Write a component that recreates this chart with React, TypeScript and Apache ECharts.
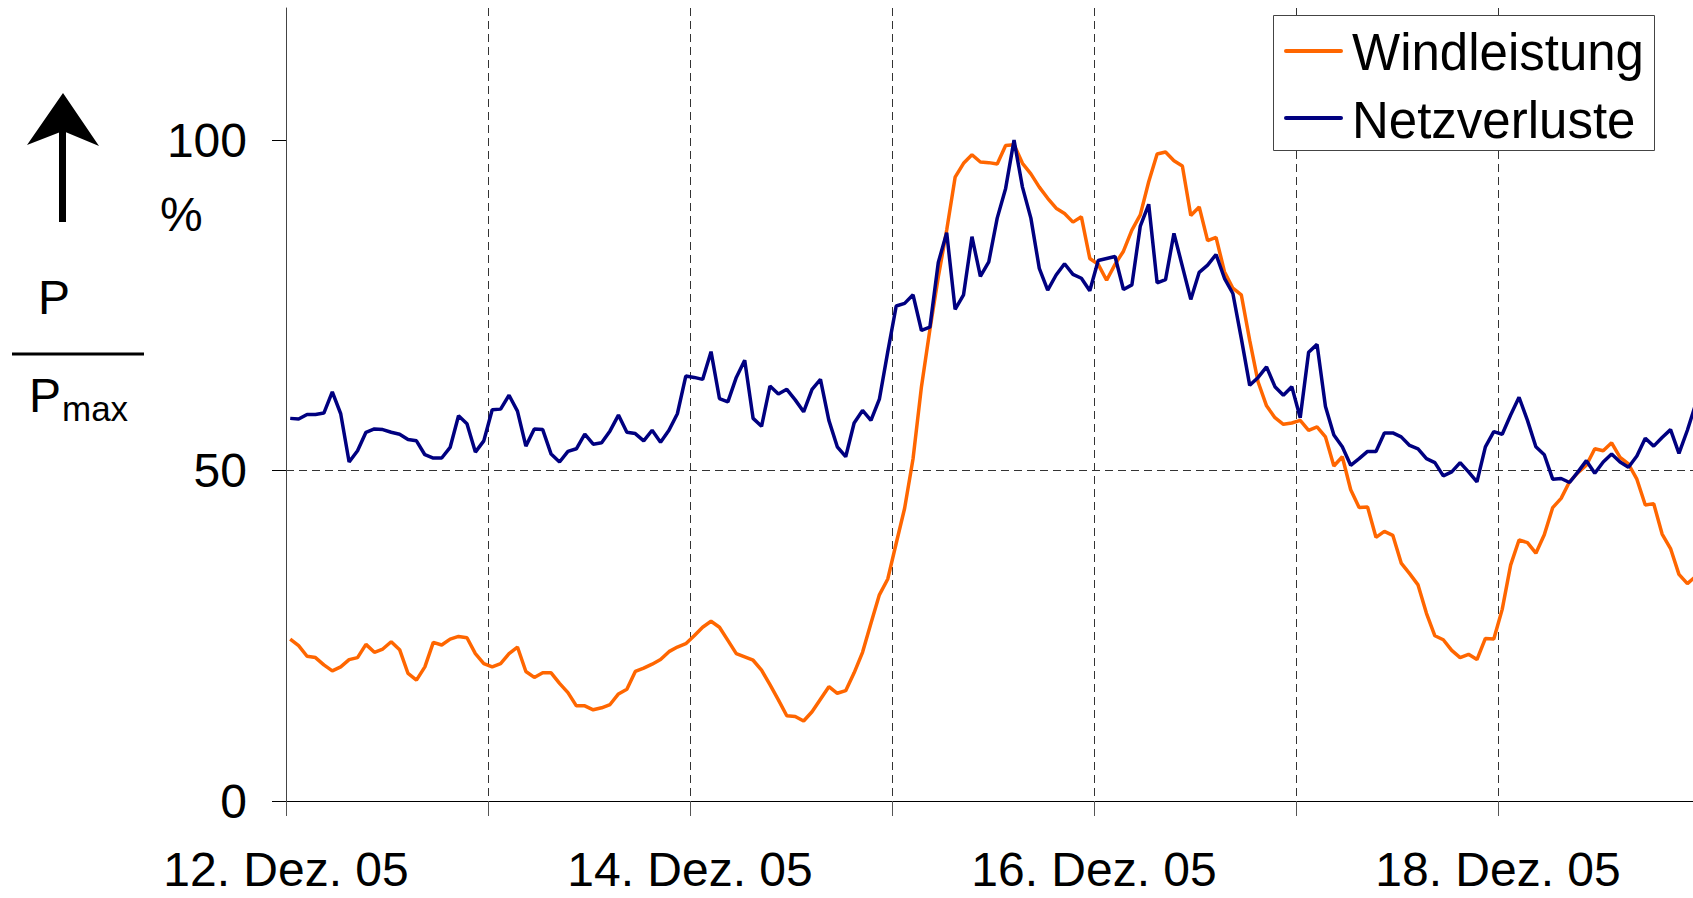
import React, { useEffect, useRef } from 'react';
import * as echarts from 'echarts';

// Hourly values from 12. Dez. 05 00:00, in percent of Pmax
const startDay = 12;
const hoursPerDay = 24;
const totalHours = 168;

const windleistung = [
  24.5, 23.5, 21.9, 21.7, 20.6, 19.7, 20.3, 21.4, 21.7, 23.7, 22.5, 23.0, 24.1, 22.9, 19.3, 18.3, 20.3, 24.0, 23.6, 24.5, 24.9, 24.7, 22.3, 20.8,
  20.3, 20.8, 22.3, 23.3, 19.6, 18.7, 19.4, 19.4, 17.8, 16.4, 14.4, 14.4, 13.8, 14.1, 14.6, 16.2, 16.9, 19.6, 20.1, 20.7, 21.4, 22.6, 23.3, 23.8,
  25.0, 26.3, 27.2, 26.3, 24.3, 22.3, 21.8, 21.3, 19.8, 17.6, 15.3, 12.9, 12.8, 12.1, 13.5, 15.4, 17.3, 16.3, 16.7, 19.4, 22.5, 26.9, 31.2, 33.6,
  39.0, 44.3, 51.8, 62.7, 71.3, 79.3, 86.4, 94.4, 96.5, 97.8, 96.7, 96.6, 96.4, 99.2, 99.3, 96.5, 94.9, 92.9, 91.2, 89.7, 88.9, 87.6, 88.4, 82.1,
  81.2, 78.8, 81.2, 83.2, 86.4, 88.7, 93.7, 97.9, 98.2, 96.9, 96.1, 88.6, 89.9, 84.8, 85.3, 80.1, 77.6, 76.6, 69.7, 63.4, 59.8, 58.0, 57.0, 57.2,
  57.6, 56.1, 56.6, 55.1, 50.7, 52.1, 47.1, 44.4, 44.5, 39.9, 40.8, 40.2, 36.0, 34.4, 32.7, 28.4, 25.0, 24.4, 22.8, 21.7, 22.2, 21.4, 24.6, 24.5,
  29.0, 35.7, 39.5, 39.1, 37.5, 40.3, 44.4, 45.8, 48.3, 49.7, 50.8, 53.3, 53.0, 54.2, 52.0, 51.0, 48.7, 44.8, 45.0, 40.4, 38.2, 34.3, 32.9, 34.0,
];

const netzverluste = [
  57.9, 57.8, 58.5, 58.5, 58.7, 61.9, 58.6, 51.3, 53.0, 55.8, 56.3, 56.2, 55.8, 55.5, 54.7, 54.5, 52.4, 51.9, 51.9, 53.5, 58.3, 57.1, 52.8, 54.5,
  59.2, 59.3, 61.4, 59.0, 53.7, 56.3, 56.2, 52.5, 51.3, 52.9, 53.3, 55.5, 54.0, 54.2, 56.0, 58.4, 55.8, 55.6, 54.5, 56.1, 54.3, 56.1, 58.6, 64.3,
  64.1, 63.8, 68.0, 60.9, 60.4, 64.1, 66.7, 57.9, 56.7, 62.8, 61.6, 62.3, 60.7, 58.9, 62.3, 63.8, 57.6, 53.6, 52.1, 57.2, 59.1, 57.6, 60.8, 68.0,
  74.9, 75.3, 76.6, 71.2, 71.7, 81.5, 86.0, 74.4, 76.6, 85.4, 79.4, 81.6, 88.2, 92.7, 100.0, 92.9, 88.2, 80.6, 77.3, 79.6, 81.3, 79.7, 79.1, 77.2,
  81.8, 82.1, 82.4, 77.4, 78.1, 87.0, 90.3, 78.4, 78.9, 85.9, 80.9, 75.9, 80.0, 81.1, 82.7, 79.1, 76.8, 70.0, 62.9, 64.1, 65.7, 62.7, 61.4, 62.7,
  58.0, 67.9, 69.1, 59.7, 55.4, 53.6, 50.8, 51.8, 52.9, 52.9, 55.7, 55.7, 55.1, 53.8, 53.3, 51.8, 51.2, 49.2, 49.8, 51.2, 49.8, 48.3, 53.6, 55.9,
  55.5, 58.4, 61.1, 57.6, 53.6, 52.4, 48.7, 48.8, 48.2, 49.8, 51.5, 49.6, 51.3, 52.5, 51.3, 50.5, 52.2, 54.9, 53.7, 55.0, 56.2, 52.6, 56.1, 60.1,
];

const yTicks = [0, 50, 100];
const seriesNames = ['Windleistung', 'Netzverluste'];
const seriesColors = ['#FF6600', '#000080'];
const monthLabel = 'Dez. 05';

const FONT = '"Liberation Sans", Arial, Helvetica, sans-serif';

export default function App() {
  const ref = useRef<HTMLDivElement>(null);

  useEffect(() => {
    if (!ref.current) return;
    const chart = echarts.init(ref.current, null, { renderer: 'svg' });
    const toPoints = (arr: number[]) => arr.map((v, i) => [i + 0.5, v]);
    const dashed = { type: [8, 5] as any, color: '#333', width: 1 };

    chart.setOption({
      animation: false,
      backgroundColor: '#ffffff',
      grid: { left: 286, width: 1414, top: 8, height: 793, containLabel: false, outerBoundsMode: 'none' },
      xAxis: {
        type: 'value',
        min: 0,
        max: totalHours,
        interval: hoursPerDay,
        axisLine: { show: true, onZero: false, lineStyle: { color: '#000', width: 1 } },
        axisTick: { show: true, length: 15, lineStyle: { color: '#555', width: 1 } },
        axisLabel: {
          margin: 48,
          fontSize: 48,
          lineHeight: 40,
          color: '#000',
          fontFamily: FONT,
          formatter: (v: number) => {
            const d = startDay + v / hoursPerDay;
            return d % 2 === 0 ? `${d}. ${monthLabel}` : '';
          },
        },
        splitLine: { show: true, showMinLine: false, showMaxLine: false, lineStyle: dashed },
      },
      yAxis: {
        type: 'value',
        min: 0,
        max: 120,
        interval: 50,
        axisLine: { show: true, lineStyle: { color: '#444', width: 1 } },
        axisTick: { show: true, length: 14, customValues: yTicks, lineStyle: { color: '#000', width: 1 } },
        axisLabel: {
          customValues: yTicks,
          margin: 39,
          fontSize: 48,
          color: '#000',
          fontFamily: FONT,
          formatter: (v: number) => (yTicks.indexOf(v) >= 0 ? String(v) : ''),
        },
        splitLine: { show: true, showMinLine: false, showMaxLine: false, lineStyle: dashed },
      },
      series: [
        {
          name: seriesNames[0],
          type: 'line',
          data: toPoints(windleistung),
          symbol: 'none',
          lineStyle: { color: seriesColors[0], width: 3.5 },
          itemStyle: { color: seriesColors[0] },
          z: 2,
        },
        {
          name: seriesNames[1],
          type: 'line',
          data: toPoints(netzverluste),
          symbol: 'none',
          lineStyle: { color: seriesColors[1], width: 3.5 },
          itemStyle: { color: seriesColors[1] },
          z: 3,
        },
      ],
      graphic: [
        // axis annotation: arrow
        { type: 'polygon', shape: { points: [[63, 93], [99, 146], [63, 131], [27, 145]] }, style: { fill: '#000' } },
        { type: 'rect', shape: { x: 59, y: 128, width: 7, height: 94 }, style: { fill: '#000' } },
        { type: 'text', x: 160, y: 214, style: { text: '%', font: `48px ${FONT}`, fill: '#000', verticalAlign: 'middle', align: 'left' } },
        { type: 'text', x: 38, y: 297, style: { text: 'P', font: `48px ${FONT}`, fill: '#000', verticalAlign: 'middle', align: 'left' } },
        { type: 'line', shape: { x1: 12, y1: 354, x2: 144, y2: 354 }, style: { stroke: '#000', lineWidth: 3 } },
        { type: 'text', x: 29, y: 395, style: { text: 'P', font: `48px ${FONT}`, fill: '#000', verticalAlign: 'middle', align: 'left' } },
        { type: 'text', x: 62, y: 408, style: { text: 'max', font: `35px ${FONT}`, fill: '#000', verticalAlign: 'middle', align: 'left' } },
        // legend
        {
          type: 'rect',
          z: 100,
          shape: { x: 1273.5, y: 15.5, width: 381, height: 135 },
          style: { fill: '#fff', stroke: '#444', lineWidth: 1 },
        },
        { type: 'line', z: 101, shape: { x1: 1286, y1: 51, x2: 1341, y2: 51 }, style: { stroke: seriesColors[0], lineWidth: 4, lineCap: 'round' } },
        { type: 'line', z: 101, shape: { x1: 1286, y1: 118, x2: 1341, y2: 118 }, style: { stroke: seriesColors[1], lineWidth: 4, lineCap: 'round' } },
        { type: 'text', z: 101, x: 1352, y: 52, style: { text: seriesNames[0], font: `51px ${FONT}`, fill: '#000', verticalAlign: 'middle', align: 'left' } },
        { type: 'text', z: 101, x: 1352, y: 120, style: { text: seriesNames[1], font: `51px ${FONT}`, fill: '#000', verticalAlign: 'middle', align: 'left' } },
      ],
    });

    return () => chart.dispose();
  }, []);

  return (
    <div
      ref={ref}
      style={{ position: 'fixed', left: 0, top: 0, width: 1693, height: 898, background: '#fff' }}
    />
  );
}
